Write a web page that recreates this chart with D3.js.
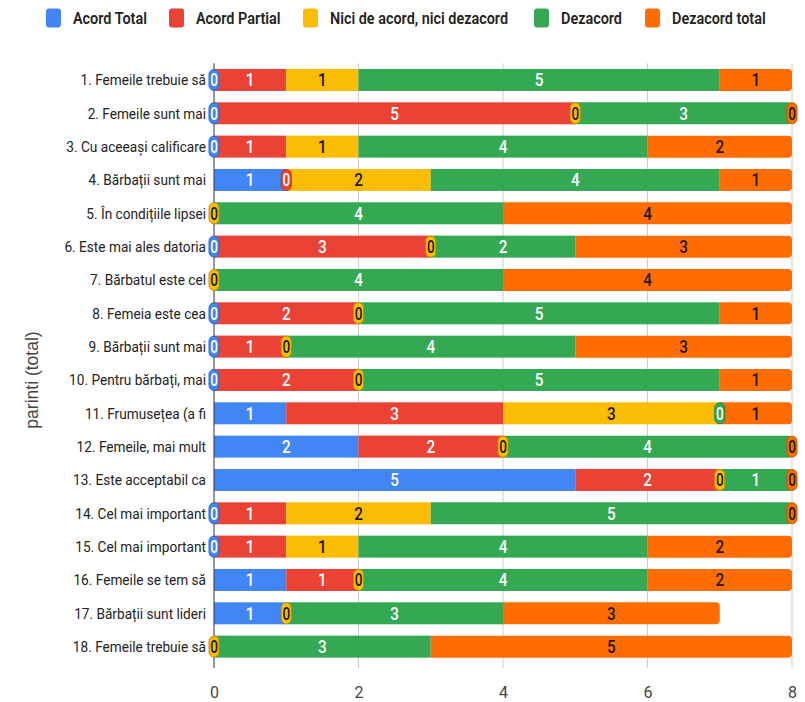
<!DOCTYPE html>
<html>
<head>
<meta charset="utf-8">
<script src="https://cdn.jsdelivr.net/npm/d3@7/dist/d3.min.js"></script>
<style>
  html, body { margin: 0; padding: 0; background: #fff; }
  svg { display: block; font-family: Roboto, "Noto Sans", sans-serif; }
</style>
</head>
<body>
<svg id="chart" width="805" height="702"></svg>
<script>
// ---------- DATA ----------
const categories = [
  "1. Femeile trebuie să",
  "2. Femeile sunt mai",
  "3. Cu aceeași calificare",
  "4. Bărbații sunt mai",
  "5. În condițiile lipsei",
  "6. Este mai ales datoria",
  "7. Bărbatul este cel",
  "8. Femeia este cea",
  "9. Bărbații sunt mai",
  "10. Pentru bărbați, mai",
  "11. Frumusețea (a fi",
  "12. Femeile, mai mult",
  "13. Este acceptabil ca",
  "14. Cel mai important",
  "15. Cel mai important",
  "16. Femeile se tem să",
  "17. Bărbații sunt lideri",
  "18. Femeile trebuie să"
];
const seriesNames = ["Acord Total", "Acord Partial", "Nici de acord, nici dezacord", "Dezacord", "Dezacord total"];
const acordTotal    = [0,0,0,1,0,0,0,0,0,0,1,2,5,0,0,1,1,0];
const acordPartial  = [1,5,1,0,0,3,0,2,1,2,3,2,2,1,1,1,0,0];
const niciNici      = [1,0,1,2,0,0,0,0,0,0,3,0,0,2,1,0,0,0];
const dezacord      = [5,3,4,4,4,2,4,5,4,5,0,4,1,5,4,4,3,3];
const dezacordTotal = [1,0,2,1,4,3,4,1,3,1,1,0,0,0,2,2,3,5];
const xTicks = [0, 2, 4, 6, 8];
const yAxisTitle = "parinti (total)";

// ---------- STYLE ----------
const colors = ["#4285F4", "#EA4335", "#FBBC04", "#34A853", "#FF6D01"];
const labelColors = ["#ffffff", "#ffffff", "#1a1a1a", "#ffffff", "#1a1a1a"];
const seriesKeys = ["at", "ap", "n", "d", "dt"];

const rows = categories.map((c, i) => ({
  cat: c, at: acordTotal[i], ap: acordPartial[i], n: niciNici[i], d: dezacord[i], dt: dezacordTotal[i]
}));
const stacked = d3.stack().keys(seriesKeys)(rows);

const svg = d3.select("#chart");
const plot = { left: 214, right: 792, top: 63.3, bottom: 663.3 };

const x = d3.scaleLinear().domain([0, 8]).range([plot.left, plot.right]);
const y = d3.scaleBand().domain(categories.map((c, i) => i)).range([plot.top, plot.bottom]).paddingInner(0.34).paddingOuter(0.17);

function condense(sel, f) {
  sel.each(function () {
    const len = this.getComputedTextLength();
    d3.select(this).attr("textLength", len * f).attr("lengthAdjust", "spacingAndGlyphs");
  });
}

// gridlines
svg.append("g").selectAll("line").data(xTicks.filter(t => t !== 0)).join("line")
  .attr("x1", d => x(d)).attr("x2", d => x(d))
  .attr("y1", plot.top).attr("y2", 668)
  .attr("stroke", "#cccccc").attr("stroke-width", 1);

// tick labels via axis
const xAxis = d3.axisBottom(x).tickValues(xTicks).tickSize(0).tickPadding(0).tickFormat(d3.format("d"));
const axG = svg.append("g").attr("transform", `translate(0,${684})`).call(xAxis);
axG.select(".domain").remove();
axG.selectAll("text").attr("font-size", 16).attr("fill", "#444").attr("font-family", "Roboto, sans-serif").attr("dy", "0.9em");

// bars
const barsG = svg.append("g");
const rad = 4;
stacked.forEach((layer, si) => {
  layer.forEach((seg, ri) => {
    const v = seg[1] - seg[0];
    if (v <= 0) return;
    const x0 = x(seg[0]), x1 = x(seg[1]);
    const y0 = y(ri), h = y.bandwidth();
    let last = true;
    for (let k = si + 1; k < seriesKeys.length; k++) if (rows[ri][seriesKeys[k]] > 0) last = false;
    if (last) {
      const r = Math.min(rad, (x1 - x0));
      barsG.append("path")
        .attr("d", `M${x0},${y0} H${x1 - r} Q${x1},${y0} ${x1},${y0 + r} V${y0 + h - r} Q${x1},${y0 + h} ${x1 - r},${y0 + h} H${x0} Z`)
        .attr("fill", colors[si]);
    } else {
      barsG.append("rect").attr("x", x0).attr("y", y0).attr("width", x1 - x0).attr("height", h).attr("fill", colors[si]);
    }
  });
});

// axis line at 0
svg.append("line").attr("x1", x(0)).attr("x2", x(0)).attr("y1", plot.top).attr("y2", 668)
  .attr("stroke", "#333").attr("stroke-width", 1);

// value labels
const labG = svg.append("g");
stacked.forEach((layer, si) => {
  layer.forEach((seg, ri) => {
    const v = seg[1] - seg[0];
    const cy = y(ri) + y.bandwidth() / 2;
    if (v > 0) {
      labG.append("text")
        .attr("x", x((seg[0] + seg[1]) / 2)).attr("y", cy + 6.5)
        .attr("text-anchor", "middle").attr("font-size", 18).attr("font-weight", 500)
        .attr("fill", labelColors[si]).text(v)
        .call(condense, 0.85);
    } else {
      // a zero label fully covered by a later zero label at the same spot is not visible
      let covered = false;
      for (let k = si + 1; k < seriesKeys.length; k++) {
        if (rows[ri][seriesKeys[k]] === 0 && stacked[k][ri][0] === seg[0]) covered = true;
      }
      if (covered) return;
      const cx = x(seg[0]);
      labG.append("rect")
        .attr("x", cx - 5).attr("y", cy - 10.5).attr("width", 10).attr("height", 21)
        .attr("rx", 5).attr("ry", 5)
        .attr("fill", colors[si])
        .attr("stroke", d3.color(colors[si]).darker(0.7))
        .attr("stroke-width", 1);
      labG.append("text")
        .attr("x", cx).attr("y", cy + 6.5)
        .attr("text-anchor", "middle").attr("font-size", 18).attr("font-weight", 500)
        .attr("fill", labelColors[si]).text(0)
        .call(condense, 0.75);
    }
  });
});

// category labels
svg.append("g").selectAll("text").data(categories).join("text")
  .attr("x", 206).attr("y", (d, i) => y(i) + y.bandwidth() / 2 + 5.5)
  .attr("text-anchor", "end").attr("font-size", 15.5).attr("fill", "#222")
  .text(d => d)
  .call(condense, 0.88);

// y-axis title
svg.append("text")
  .attr("transform", `translate(38,380) rotate(-90)`)
  .attr("text-anchor", "middle").attr("font-size", 17.5).attr("fill", "#444")
  .attr("font-family", "Liberation Sans, Arial, sans-serif")
  .text(yAxisTitle);

// legend
const legendX = [46, 169, 303, 534, 645];
const legG = svg.append("g");
seriesNames.forEach((name, i) => {
  legG.append("rect").attr("x", legendX[i]).attr("y", 8.5).attr("width", 15).attr("height", 19)
    .attr("rx", 3).attr("fill", colors[i]);
  legG.append("text").attr("x", legendX[i] + 27).attr("y", 24)
    .attr("font-size", 16).attr("font-weight", 600).attr("fill", "#222")
    .text(name)
    .call(condense, 0.9);
});
</script>
</body>
</html>
